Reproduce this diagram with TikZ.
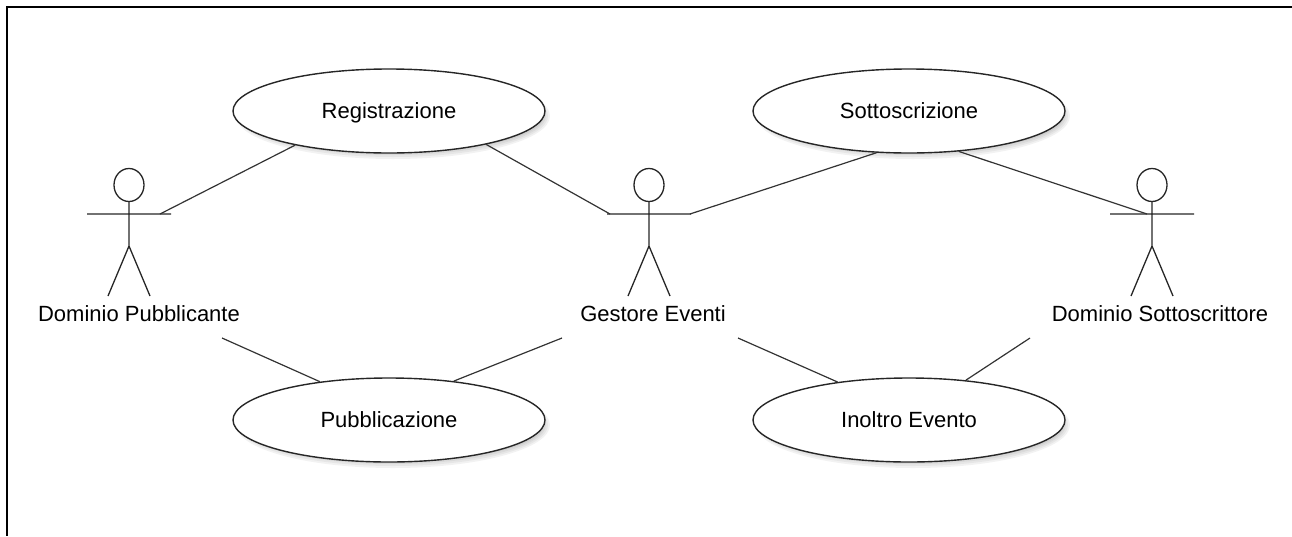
\documentclass[tikz,border=0pt]{standalone}
\usepackage{fontspec}
\setmainfont{Liberation Sans}
\usetikzlibrary{shapes.geometric}
\begin{document}
\begin{tikzpicture}[x=1pt,y=-1pt,
  usecase/.style={ellipse, draw=black!85, line width=1.4pt, fill=white,
    minimum width=312pt, minimum height=84pt, inner sep=0pt,
    text depth=0pt, font=\fontsize{22}{26}\selectfont},
  actorname/.style={inner sep=0pt, font=\fontsize{22}{26}\selectfont},
  link/.style={draw=black!80, line width=1.2pt},
  stick/.style={draw=black!85, line width=1.3pt},
  actor/.pic={
    \draw[stick] (0,0) ellipse [x radius=15, y radius=16.5];
    \draw[stick] (0,16.5) -- (0,61)
                 (-42,29) -- (42,29)
                 (0,61) -- (-21,111)
                 (0,61) -- (21,111);
  }]
\useasboundingbox (0,0) rectangle (1292,536);

% frame (top and left edges)
\draw[line width=2.5pt] (1292,7) -- (7,7) -- (7,536);

% soft shadows under the use cases
\foreach \cx/\cy in {389/111, 909/111, 389/420, 909/420}
  \foreach \k in {0,...,3}
    \fill[black, opacity=0.05] (\cx+4,\cy+5) ellipse [x radius=157-2*\k, y radius=43-2*\k];

% use cases
\node[usecase] (reg)  at (389,111) {Registrazione};
\node[usecase] (sott) at (909,111) {Sottoscrizione};
\node[usecase] (pub)  at (389,420) {Pubblicazione};
\node[usecase] (ino)  at (909,420) {Inoltro Evento};

% actors
\pic at (129,185) {actor};
\pic at (649,185) {actor};
\pic at (1152,185) {actor};
\node[actorname] (domPub)  at (139,314) {Dominio Pubblicante};
\node[actorname] (gestore) at (653,314) {Gestore Eventi};
\node[actorname] (domSott) at (1160,314) {Dominio Sottoscrittore};

% attachment points on the actors
\coordinate (domPubArm)  at (160,214);
\coordinate (gestArmL)   at (610,214);
\coordinate (gestArmR)   at (690,214);
\coordinate (domSottArm) at (1147,214);
\coordinate (domPubLow)  at (222,338);
\coordinate (gestLowL)   at (562,338);
\coordinate (gestLowR)   at (738,338);
\coordinate (domSottLow) at (1030,338);

% associations
\draw[link] (domPubArm) -- (reg.200);
\draw[link] (reg.341) -- (gestArmL);
\draw[link] (gestArmR) -- (sott.232);
\draw[link] (sott.321) -- (domSottArm);
\draw[link] (domPubLow) -- (pub.151);
\draw[link] (pub.31) -- (gestLowL);
\draw[link] (gestLowR) -- (ino.152);
\draw[link] (ino.35) -- (domSottLow);
\end{tikzpicture}
\end{document}
